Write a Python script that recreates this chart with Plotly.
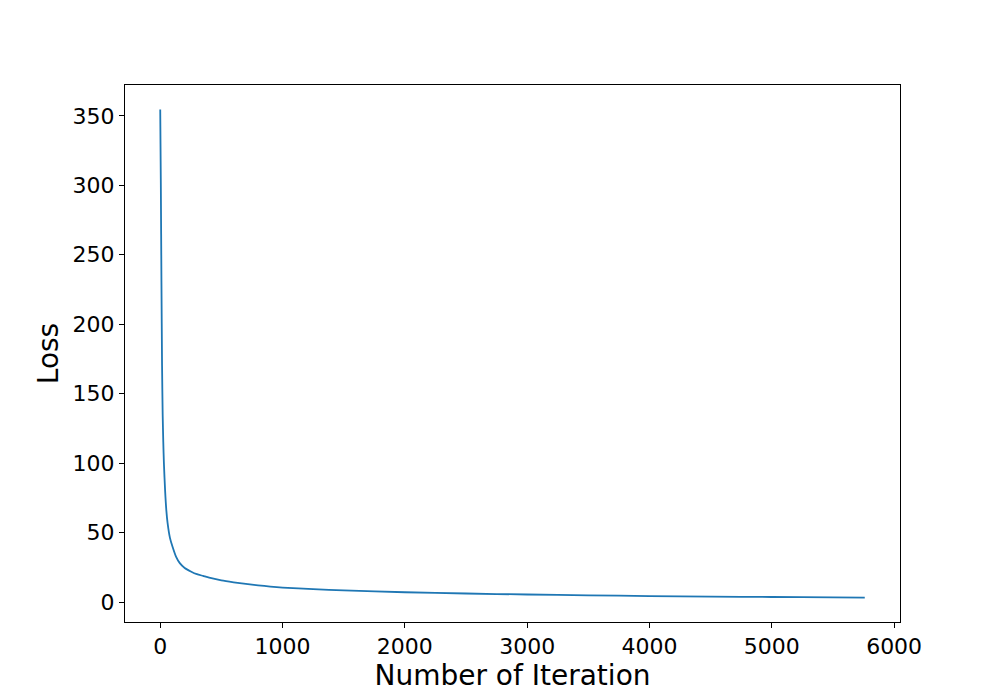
import plotly.graph_objects as go

iterations = [0, 5, 10, 15, 20, 25, 30, 40, 50, 60, 80, 100, 130, 160, 200, 250, 300,
              350, 400, 500, 600, 700, 800, 900, 1000, 1250, 1500, 2000, 2500, 3000,
              3500, 4000, 4500, 5000, 5500, 5760]
loss = [354.6, 300, 230, 170, 135, 115, 100, 80, 66, 57, 46, 40, 32.5, 28, 24.5, 22,
        20, 18.8, 17.6, 15.6, 14.2, 13.0, 12.0, 11.1, 10.4, 9.2, 8.4, 7.0, 6.1, 5.4,
        4.8, 4.3, 3.9, 3.6, 3.3, 3.2]

x_ticks = [0, 1000, 2000, 3000, 4000, 5000, 6000]
y_ticks = [0, 50, 100, 150, 200, 250, 300, 350]

fig = go.Figure()
fig.add_trace(go.Scatter(x=iterations, y=loss, mode="lines",
                         line=dict(color="#1f77b4", width=1.8, shape="spline", smoothing=0.6),
                         showlegend=False))

font_family = "DejaVu Sans"
fig.update_layout(
    width=1000, height=700,
    paper_bgcolor="white", plot_bgcolor="white",
    margin=dict(l=117, r=108, t=77, b=86),
    font=dict(family=font_family, color="black"),
)
fig.update_xaxes(
    range=[-288, 6048], tickvals=x_ticks, ticktext=[str(v) for v in x_ticks],
    ticks="outside", ticklen=5, tickwidth=1, tickcolor="black",
    tickfont=dict(size=22, family=font_family),
    showline=True, linecolor="black", linewidth=1, mirror=True,
    showgrid=False, zeroline=False,
    title=dict(text="Number of Iteration", font=dict(size=28, family=font_family), standoff=2),
)
fig.update_yaxes(
    range=[-14.4, 372.2], tickvals=y_ticks, ticktext=[str(v) for v in y_ticks],
    ticks="outside", ticklen=5, tickwidth=1, tickcolor="black",
    tickfont=dict(size=22, family=font_family),
    showline=True, linecolor="black", linewidth=1, mirror=True,
    showgrid=False, zeroline=False,
    title=dict(text="Loss", font=dict(size=28, family=font_family), standoff=5),
)

fig.write_html("out.html")
